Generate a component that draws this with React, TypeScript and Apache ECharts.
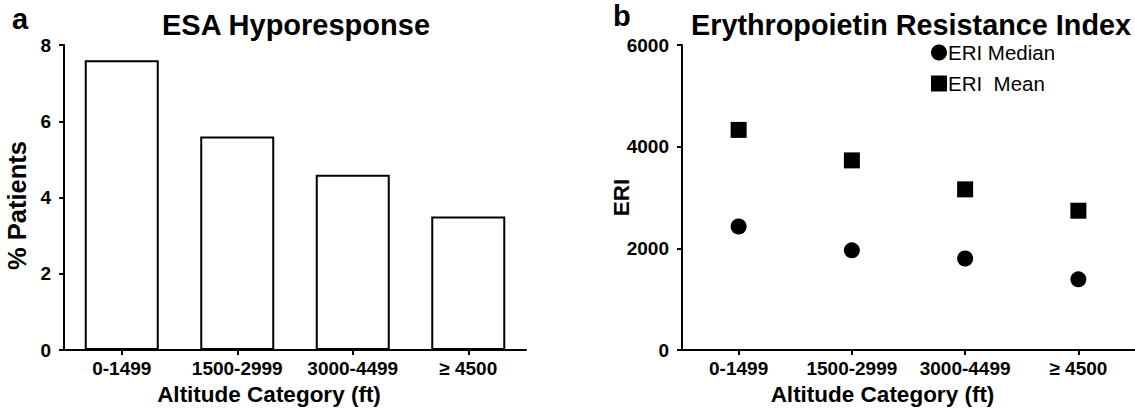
import React, { useEffect, useRef } from "react";
import * as echarts from "echarts";

const categories = ["0-1499", "1500-2999", "3000-4499", "≥ 4500"];
const hyporesponsePct = [7.6, 5.6, 4.6, 3.5];
const eriMedian = [2430, 1960, 1800, 1390];
const eriMean = [4330, 3730, 3160, 2740];
const leftTicksMax = 8;
const rightTicksMax = 6000;

const FONT = '"Liberation Sans", Arial, sans-serif';

export default function App() {
  const ref = useRef<HTMLDivElement>(null);
  useEffect(() => {
    if (!ref.current) return;
    const chart = echarts.init(ref.current, null, { renderer: "svg" });
    const axisLine = { show: true, lineStyle: { color: "#000", width: 2 } };
    const axisTick = { show: true, length: 5, lineStyle: { color: "#000", width: 2 } };
    const tickLabel = { color: "#000", fontFamily: FONT, fontWeight: "bold" as const, fontSize: 19 };
    const nameStyle = { color: "#000", fontFamily: FONT, fontWeight: "bold" as const, fontSize: 22.5 };
    chart.setOption({
      animation: false,
      backgroundColor: "#fff",
      textStyle: { fontFamily: FONT },
      title: [
        {
          text: "ESA Hyporesponse",
          left: 291,
          top: 5,
          textAlign: "center",
          textStyle: { color: "#000", fontFamily: FONT, fontWeight: "bold", fontSize: 29 },
        },
        {
          text: "Erythropoietin Resistance Index",
          left: 906,
          top: 5,
          textAlign: "center",
          textStyle: { color: "#000", fontFamily: FONT, fontWeight: "bold", fontSize: 28.8 },
        },
      ],
      graphic: [
        { type: "text", left: 12, top: 4, style: { text: "a", fill: "#000", font: `bold 29px ${FONT}` } },
        { type: "text", left: 613, top: 1, style: { text: "b", fill: "#000", font: `bold 29px ${FONT}` } },
      ],
      legend: {
        data: ["ERI Median", "ERI  Mean"],
        orient: "vertical",
        left: 926,
        top: 37,
        itemWidth: 16,
        itemHeight: 16,
        itemGap: 10,
        textStyle: { color: "#000", fontFamily: FONT, fontSize: 20.5, padding: [0, 0, 0, -4] },
      },
      grid: [
        { left: 64, right: 609, top: 45, bottom: 58 },
        { left: 682, right: -8, top: 45, bottom: 58 },
      ],
      xAxis: [
        {
          type: "category",
          gridIndex: 0,
          data: categories,
          axisLine,
          axisTick: { ...axisTick, alignWithLabel: true },
          axisLabel: { ...tickLabel, margin: 9, interval: 0 },
          name: "Altitude Category (ft)",
          nameLocation: "middle",
          nameGap: 33,
          nameTextStyle: { ...nameStyle, padding: [0, 52, 0, 0] },
        },
        {
          type: "category",
          gridIndex: 1,
          data: categories,
          axisLine,
          axisTick: { ...axisTick, alignWithLabel: true },
          axisLabel: { ...tickLabel, margin: 9, interval: 0 },
          name: "Altitude Category (ft)",
          nameLocation: "middle",
          nameGap: 33,
          nameTextStyle: { ...nameStyle, padding: [0, 52, 0, 0] },
        },
      ],
      yAxis: [
        {
          type: "value",
          gridIndex: 0,
          min: 0,
          max: leftTicksMax,
          interval: 2,
          axisLine,
          axisTick,
          splitLine: { show: false },
          axisLabel: { ...tickLabel, margin: 13 },
          name: "% Patients",
          nameLocation: "middle",
          nameRotate: 90,
          nameGap: 34,
          nameMoveOverlap: false,
          nameTextStyle: { ...nameStyle, fontSize: 25.5, padding: [0, 16, 0, 0] },
        },
        {
          type: "value",
          gridIndex: 1,
          min: 0,
          max: rightTicksMax,
          interval: 2000,
          axisLine,
          axisTick,
          splitLine: { show: false },
          axisLabel: { ...tickLabel, margin: 13, formatter: (v: number) => String(v) },
          name: "ERI",
          nameLocation: "middle",
          nameRotate: 90,
          nameGap: 49,
          nameMoveOverlap: false,
          nameTextStyle: nameStyle,
        },
      ],
      series: [
        {
          type: "bar",
          name: "% Patients",
          xAxisIndex: 0,
          yAxisIndex: 0,
          data: hyporesponsePct,
          barWidth: 74,
          itemStyle: { color: "#fff", borderColor: "#000", borderWidth: 2 },
        },
        {
          type: "scatter",
          name: "ERI Median",
          xAxisIndex: 1,
          yAxisIndex: 1,
          data: eriMedian,
          symbol: "circle",
          symbolSize: 16,
          itemStyle: { color: "#000", opacity: 1 },
        },
        {
          type: "scatter",
          name: "ERI  Mean",
          xAxisIndex: 1,
          yAxisIndex: 1,
          data: eriMean,
          symbol: "rect",
          symbolSize: 16,
          itemStyle: { color: "#000", opacity: 1 },
        },
      ],
    });
    return () => chart.dispose();
  }, []);
  return (
    <div
      ref={ref}
      style={{ position: "fixed", left: 0, top: 0, width: 1135, height: 411, background: "#fff" }}
    />
  );
}
